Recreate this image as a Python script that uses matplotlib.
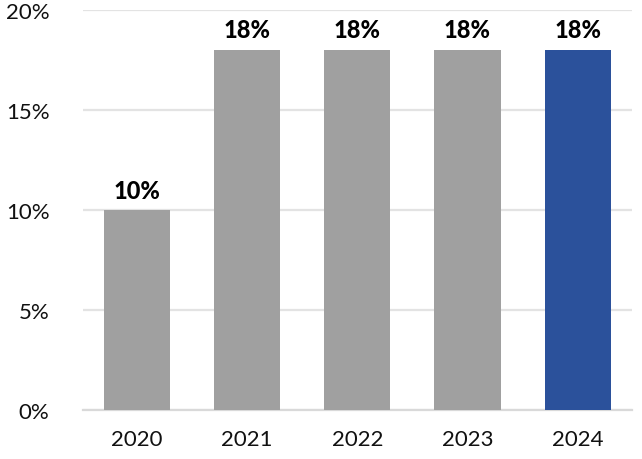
import matplotlib.pyplot as plt

anios = ['2020', '2021', '2022', '2023', '2024']
valores = [10, 18, 18, 18, 18]
colores = ['#a0a0a0', '#a0a0a0', '#a0a0a0', '#a0a0a0', '#2b519b']
ticks_y = [0, 5, 10, 15, 20]

plt.rcParams['font.family'] = ['Lato', 'DejaVu Sans']

fig = plt.figure(figsize=(6.42, 4.6), dpi=100)
ax = fig.add_axes([0.129, 0.1065, 0.855, 0.87])

# barras
x = range(len(anios))
ax.bar(x, valores, width=0.6, color=colores, zorder=3)

# etiquetas de valor
for i, v in zip(x, valores):
    ax.annotate(f'{v}%', (i, v), xytext=(0, 6), textcoords='offset points',
                ha='center', va='bottom', fontsize=17, fontweight='black', color='black')

ax.set_xlim(-0.49, 4.49)
ax.set_ylim(0, 20)
ax.set_yticks(ticks_y)
ax.set_yticklabels([f'{t}%' for t in ticks_y])
ax.set_xticks(list(x))
ax.set_xticklabels(anios)

ax.grid(axis='y', color='#e3e3e3', linewidth=1.6, zorder=0)
for s in ['top', 'right', 'left']:
    ax.spines[s].set_visible(False)
ax.spines['bottom'].set_color('#d9d9d9')
ax.spines['bottom'].set_linewidth(1.6)
ax.tick_params(axis='both', length=0, labelsize=16, colors='#111111')
ax.tick_params(axis='x', pad=14)
ax.tick_params(axis='y', pad=24)

fig.savefig('out.png', dpi=100)
